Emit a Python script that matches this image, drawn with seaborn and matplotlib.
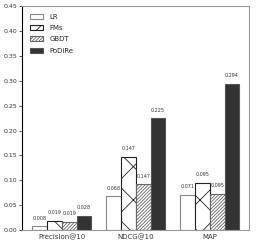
import matplotlib
matplotlib.use("Agg")
import matplotlib.pyplot as plt
import seaborn as sns
import pandas as pd

metrics = ["Precision@10", "NDCG@10", "MAP"]
methods = ["LR", "FMs", "GBDT", "PoDiRe"]
lr = [0.008, 0.068, 0.071]
fms = [0.019, 0.147, 0.095]
gbdt = [0.017, 0.092, 0.073]
podire = [0.029, 0.225, 0.294]
lr_lbl = ["0.008", "0.068", "0.071"]
fms_lbl = ["0.019", "0.147", "0.095"]
gbdt_lbl = ["0.019", "0.147", "0.095"]
podire_lbl = ["0.028", "0.225", "0.294"]

rows = []
for name, vals in zip(methods, [lr, fms, gbdt, podire]):
    for m, v in zip(metrics, vals):
        rows.append({"metric": m, "method": name, "value": v})
df = pd.DataFrame(rows)

sns.set_style("white")
plt.rcParams["hatch.linewidth"] = 0.6
plt.rcParams["font.family"] = ["DejaVu Sans"]

fig = plt.figure(figsize=(2.57, 2.44), dpi=100)
ax = fig.add_axes([0.0856, 0.057, 0.883, 0.918])

colors = ["white", "white", "white", "#333333"]
sns.barplot(data=df, x="metric", y="value", hue="method", order=metrics,
            hue_order=methods, palette=colors, width=0.8, ax=ax,
            legend=False, saturation=1)

hatches = [None, "x", "//////////", None]
edges = ["#888888", "#222222", "#666666", "#555555"]
labels = [lr_lbl, fms_lbl, gbdt_lbl, podire_lbl]
for cont, h, ec, lbls in zip(ax.containers, hatches, edges, labels):
    for p in cont.patches:
        p.set_edgecolor(ec)
        p.set_linewidth(0.8)
        if h:
            p.set_hatch(h)
    ax.bar_label(cont, labels=lbls, fontsize=3.5, padding=4, color="#333333")

ax.legend(ax.containers, methods, loc="upper left", frameon=False,
          fontsize=5, handlelength=1.9, handleheight=0.7,
          handletextpad=0.9, borderpad=0, borderaxespad=0,
          bbox_to_anchor=(0.035, 0.965), labelspacing=0.75)

ax.set_ylim(0, 0.45)
ax.set_xlim(-0.54, 2.53)
ax.set_yticks([0.0, 0.05, 0.10, 0.15, 0.20, 0.25, 0.30, 0.35, 0.40, 0.45])
ax.set_yticklabels([f"{t:.2f}" for t in ax.get_yticks()])
ax.tick_params(axis="y", labelsize=4.5, length=2, width=0.6, left=True,
               pad=1.5, colors="#333333")
ax.tick_params(axis="x", labelsize=5, length=0, pad=3, colors="#333333")
ax.set_xlabel("")
ax.set_ylabel("")
for s in ["top", "right", "bottom"]:
    ax.spines[s].set_color("#999999")
    ax.spines[s].set_linewidth(0.8)
ax.spines["left"].set_color("black")
ax.spines["left"].set_linewidth(0.8)

fig.savefig("out.png", dpi=100)
